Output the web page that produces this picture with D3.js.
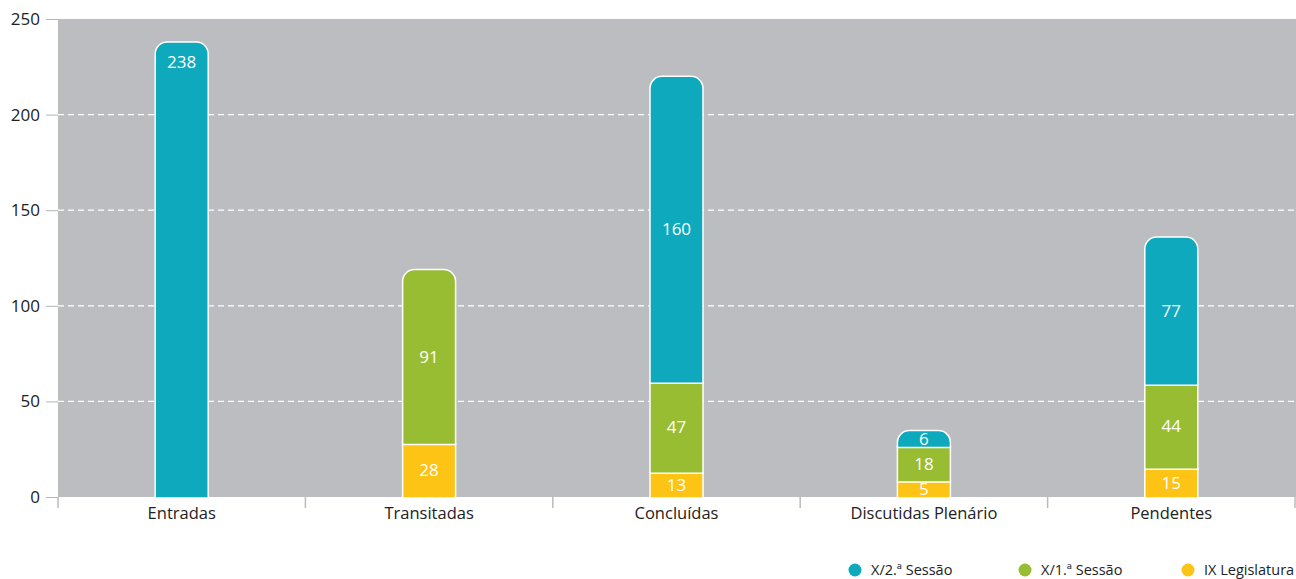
<!DOCTYPE html>
<html>
<head>
<meta charset="utf-8">
<script src="https://cdn.jsdelivr.net/npm/d3@7"></script>
<style>
  body { margin: 0; background: #fff; }
  text { font-family: "Open Sans", sans-serif; }
</style>
</head>
<body>
<svg id="chart" width="1296" height="579"></svg>
<script>
// data
const categories = ["Entradas", "Transitadas", "Concluídas", "Discutidas Plenário", "Pendentes"];
const seriesNames = ["IX Legislatura", "X/1.ª Sessão", "X/2.ª Sessão"];
const ixLegislatura = [0, 28, 13, 5, 15];
const x1Sessao = [0, 91, 47, 18, 44];
const x2Sessao = [238, 0, 160, 6, 77];
const yTicks = [0, 50, 100, 150, 200, 250];

const colors = ["#fdc315", "#98bd33", "#0ea9bc"];
const legendOrder = [2, 1, 0];

const svg = d3.select("#chart");
const plotL = 58, plotR = 1295, plotT = 19, plotB = 497;

const x = d3.scaleBand().domain(categories).range([plotL, plotR]).padding(0);
const y = d3.scaleLinear().domain([0, 250]).range([plotB, plotT]);
const barW = 53, rad = 12, minSeg = 16;

// background
svg.append("rect")
  .attr("x", plotL).attr("y", plotT)
  .attr("width", 1296 - plotL).attr("height", plotB - plotT)
  .attr("fill", "#bcbdc1");

// grid
svg.append("g").selectAll("line")
  .data(yTicks.filter(d => d > 0 && d < 250))
  .join("line")
  .attr("x1", plotL).attr("x2", 1296)
  .attr("y1", d => y(d)).attr("y2", d => y(d))
  .attr("stroke", "#fff").attr("stroke-width", 1.2)
  .attr("stroke-dasharray", "6,4");

// y axis
const yAxis = svg.append("g")
  .attr("transform", `translate(${plotL},0)`)
  .call(d3.axisLeft(y).tickValues(yTicks).tickSize(12).tickPadding(6));
yAxis.select(".domain").remove();
yAxis.selectAll(".tick line").attr("stroke", "#b5b5b5");
yAxis.selectAll(".tick text").attr("fill", "#222").attr("font-size", 17)
  .attr("font-family", "'Open Sans', sans-serif");

// x axis
const xAxis = svg.append("g")
  .attr("transform", `translate(0,${plotB})`)
  .call(d3.axisBottom(x).tickSize(0).tickPadding(10));
xAxis.select(".domain").remove();
xAxis.selectAll(".tick text").attr("fill", "#222").attr("font-size", 16.5)
  .attr("font-family", "'Open Sans', sans-serif");
const bounds = categories.map(c => x(c)).concat([plotR]);
svg.append("g").selectAll("line")
  .data(bounds)
  .join("line")
  .attr("x1", d => d).attr("x2", d => d)
  .attr("y1", plotB).attr("y2", plotB + 11)
  .attr("stroke", "#bbb").attr("stroke-width", 1.5);

// stacked data
const keys = ["s0", "s1", "s2"];
const table = categories.map((c, i) => ({
  cat: c, s0: ixLegislatura[i], s1: x1Sessao[i], s2: x2Sessao[i]
}));

function segPath(x0, y0, y1, rounded) {
  const w = barW;
  if (!rounded) return `M${x0},${y1}V${y0}H${x0 + w}V${y1}Z`;
  const r = Math.min(rad, (y1 - y0));
  return `M${x0},${y1}V${y0 + r}A${r},${r} 0 0 1 ${x0 + r},${y0}H${x0 + w - r}` +
         `A${r},${r} 0 0 1 ${x0 + w},${y0 + r}V${y1}Z`;
}

const bars = svg.append("g");
table.forEach((d, ci) => {
  const cx = x(d.cat) + x.bandwidth() / 2;
  const x0 = cx - barW / 2;
  const present = keys.map((k, j) => j).filter(j => d[keys[j]] > 0);
  let base = plotB;
  present.forEach((j, n) => {
    const v = d[keys[j]];
    // small segments get a minimum height so the label fits
    const h = Math.max(y(0) - y(v), minSeg);
    const yTop = base - h;
    const isTop = n === present.length - 1;
    bars.append("path")
      .attr("d", segPath(x0, yTop, base + 1, isTop))
      .attr("fill", colors[j])
      .attr("stroke", "#fff").attr("stroke-width", 1.5);
    const ly = present.length === 1 ? yTop + 20 : (yTop + base) / 2;
    bars.append("text")
      .attr("x", cx).attr("y", ly)
      .attr("text-anchor", "middle").attr("dy", "0.36em")
      .attr("fill", "#fff").attr("font-size", 17)
      .text(v);
    base = yTop;
  });
});

// legend
const legendX = [855, 1025, 1188];
const legend = svg.append("g").selectAll("g")
  .data(legendOrder)
  .join("g")
  .attr("transform", (d, i) => `translate(${legendX[i]},570)`);
legend.append("circle").attr("r", 6.5).attr("fill", d => colors[d]);
legend.append("text")
  .attr("x", 16).attr("dy", "0.35em")
  .attr("font-size", 14.5).attr("fill", "#222")
  .text(d => seriesNames[d]);
</script>
</body>
</html>
